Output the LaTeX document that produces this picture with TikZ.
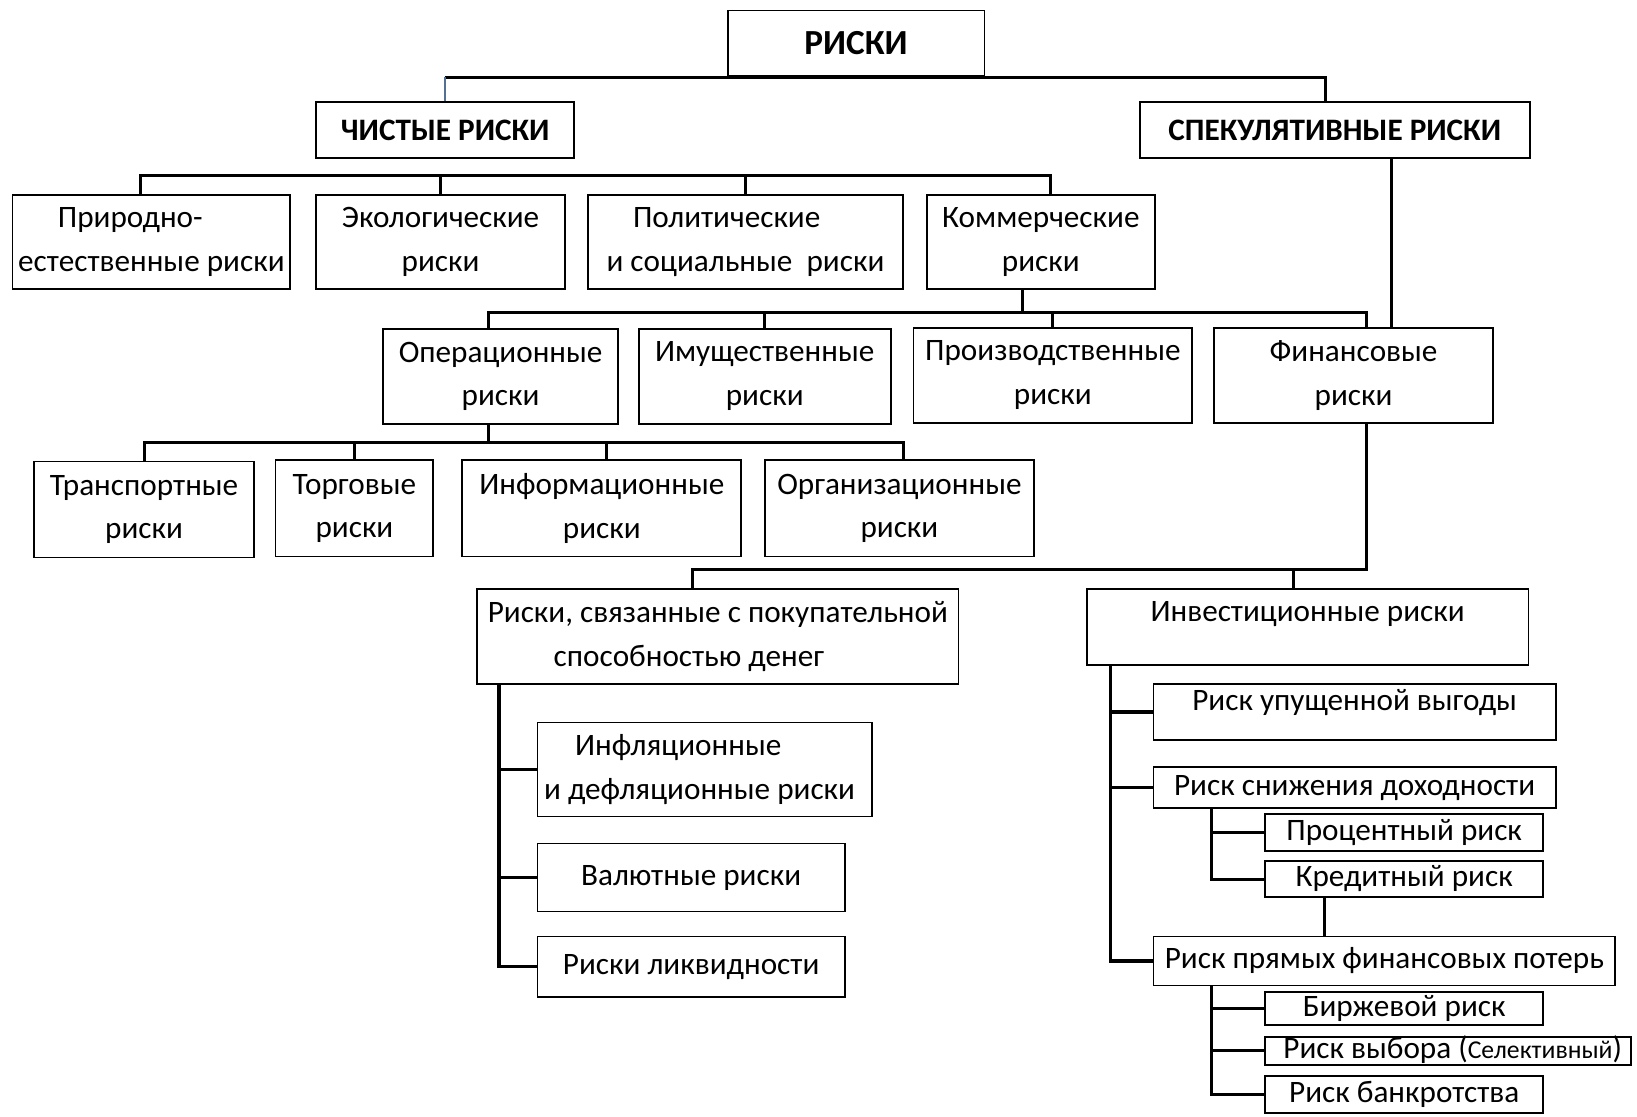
\documentclass[tikz,border=0pt]{standalone}
\usepackage{fontspec}
\setmainfont{Carlito}
\definecolor{azulgris}{RGB}{84,112,148}
\usepackage{tikz}

\begin{document}
\begin{tikzpicture}[x=0.01cm, y=-0.01cm,
    caja/.style={draw, line width=0.5pt, inner sep=0pt, align=center,
        font=\fontsize{8.5}{11.95}\selectfont},
    bajo/.style={caja, execute at begin node={\rule{0pt}{0.38cm}}},
    una/.style={caja, text height=0.205cm, text depth=0.06cm},
    titulo/.style={caja, font=\fontsize{8.5}{11.95}\selectfont\bfseries},
    linea/.style={line width=0.85pt}]
            \useasboundingbox (0,0) rectangle (1568,1069);

            % Nivel 1
            \node[titulo, minimum width=2.46cm, minimum height=0.63cm, font=\fontsize{9.6}{12}\selectfont\bfseries] (riski) at (820,41.5) {РИСКИ};
            \node[titulo, minimum width=2.47cm, minimum height=0.53cm] (chistye) at (426.5,124.5) {ЧИСТЫЕ РИСКИ};
            \node[titulo, minimum width=3.73cm, minimum height=0.53cm] (spek) at (1278.5,124.5) {СПЕКУЛЯТИВНЫЕ РИСКИ};

            % Чистые риски
            \node[bajo, minimum width=2.66cm, minimum height=0.90cm] (prirod) at (145,232) {Природно-\hspace*{1.35em}\\естественные риски};
            \node[bajo, minimum width=2.38cm, minimum height=0.90cm] (ekolog) at (422,232) {Экологические\\риски};
            \node[bajo, minimum width=3.02cm, minimum height=0.90cm] (polit) at (714,232) {Политические\hspace*{1.2em}\\и социальные~~риски};
            \node[bajo, minimum width=2.18cm, minimum height=0.90cm] (kommer) at (997,232) {Коммерческие\\риски};

            % Коммерческие риски
            \node[caja, minimum width=2.25cm, minimum height=0.91cm] (operac) at (479.5,360.5) {Операционные\\риски};
            \node[caja, minimum width=2.41cm, minimum height=0.91cm] (imush) at (732.5,360.5) {Имущественные\\риски};
            \node[caja, minimum width=2.67cm, minimum height=0.91cm] (proizv) at (1008.5,359.5) {Производственные\\риски};
            \node[caja, minimum width=2.67cm, minimum height=0.91cm] (finans) at (1296.5,359.5) {Финансовые\\риски};

            % Операционные риски
            \node[caja, minimum width=2.10cm, minimum height=0.92cm] (transp) at (138,488) {Транспортные\\риски};
            \node[caja, minimum width=1.51cm, minimum height=0.92cm] (torg) at (339.5,487) {Торговые\\риски};
            \node[caja, minimum width=2.67cm, minimum height=0.92cm] (inform) at (576.5,487) {Информационные\\риски};
            \node[caja, minimum width=2.57cm, minimum height=0.92cm] (organ) at (861.5,487) {Организационные\\риски};

            % Финансовые риски
            \node[caja, minimum width=4.61cm, minimum height=0.91cm] (pokup) at (687.5,609.5) {Риски, связанные с покупательной\\способностью денег\hspace*{1.85em}};
            \node[una, minimum width=4.23cm, minimum height=0.73cm, text depth=0.31cm] (invest) at (1252.5,600.5) {Инвестиционные риски};

            \node[caja, minimum width=3.20cm, minimum height=0.90cm] (infl) at (675,737) {Инфляционные\hspace*{1.7em}\\и дефляционные риски\hspace*{0.33em}};
            \node[una, minimum width=2.94cm, minimum height=0.65cm] (valut) at (662,840.5) {Валютные риски};
            \node[una, minimum width=2.94cm, minimum height=0.58cm] (likvid) at (662,926) {Риски ликвидности};

            \node[una, minimum width=3.85cm, minimum height=0.54cm, text depth=0.24cm] (upush) at (1297.5,682) {Риск упущенной выгоды};
            \node[una, minimum width=3.85cm, minimum height=0.39cm] (snizh) at (1297.5,754.5) {Риск снижения~доходности};
            \node[una, minimum width=2.66cm, minimum height=0.35cm] (proc) at (1345,797.5) {Процентный риск};
            \node[una, minimum width=2.66cm, minimum height=0.34cm] (kredit) at (1345,842) {Кредитный риск};
            \node[una, minimum width=4.42cm, minimum height=0.47cm] (pryam) at (1326,920.5) {Риск прямых финансовых потерь};
            \node[una, minimum width=2.66cm, minimum height=0.32cm] (birzh) at (1345,966) {Биржевой риск};
            \node[una, minimum width=3.50cm, minimum height=0.27cm] (vybor) at (1387,1006.5) {\hspace*{0.3em}Риск выбора ({\fontsize{7}{8}\selectfont Селективный})};
            \node[una, minimum width=2.66cm, minimum height=0.35cm] (bankr) at (1345,1048.5) {Риск банкротства};

            % Связи
            \draw[linea] (chistye.north |- riski.south) -| ([xshift=-0.085cm]spek.north);
            \draw[line width=0.6pt, azulgris] (chistye.north) -- (chistye.north |- riski.south);
            \draw[linea] ([xshift=0.545cm]spek.south) -- ([xshift=0.545cm]spek.south |- finans.north);

            \draw[linea] ([xshift=-0.1cm]prirod.north) -- ++(0,-18.4) -| ([xshift=0.09cm]kommer.north);
            \foreach \n in {ekolog, polit}
                \draw[linea] (\n.north) -- ++(0,-18.4);

            \draw[linea] ([xshift=-0.18cm]kommer.south) -- ++(0,23);
            \draw[linea] ([xshift=-0.115cm]operac.north) -- ++(0,-15) -| ([xshift=0.125cm]finans.north);
            \foreach \n in {imush, proizv}
                \draw[linea] (\n.north) -- ++(0,-15);

            \draw[linea] (transp.north) -- ++(0,-17.5) -| ([xshift=0.035cm]organ.north);
            \draw[linea] ([xshift=-0.115cm]operac.south) -- ++(0,18.5);
            \draw[linea] (torg.north) -- ++(0,-17);
            \draw[linea] ([xshift=0.045cm]inform.north) -- ++(0,-17);

            \draw[linea] ([xshift=0.125cm]finans.south) -- ++(0,139.5) -| ([xshift=-0.245cm]pokup.north);
            \draw[linea] ([xshift=-0.135cm]invest.north) -- ++(0,-19.5);

            % Покупательная способность
            \coordinate (tronco) at ([xshift=0.22cm]pokup.south west);
            \draw[linea] (tronco) |- (likvid.west);
            \foreach \n in {infl, valut}
                \draw[linea] (tronco |- \n.west) -- (\n.west);

            % Инвестиционные риски
            \coordinate (tronco2) at ([xshift=0.24cm]invest.south west);
            \draw[linea] (tronco2) |- (pryam.west);
            \foreach \n in {upush, snizh}
                \draw[linea] (tronco2 |- \n.west) -- (\n.west);

            \coordinate (rama1) at ([xshift=0.56cm]snizh.south west);
            \draw[linea] (rama1) |- (kredit.west);
            \draw[linea] (rama1 |- proc.west) -- (proc.west);
            \draw[linea] ([xshift=-0.76cm]kredit.south) -- ([xshift=-0.76cm]kredit.south |- pryam.north);

            \coordinate (rama2) at ([xshift=0.56cm]pryam.south west);
            \draw[linea] (rama2) |- (bankr.west);
            \foreach \n in {birzh, vybor}
                \draw[linea] (rama2 |- \n.west) -- (\n.west);
        \end{tikzpicture}
\end{document}
